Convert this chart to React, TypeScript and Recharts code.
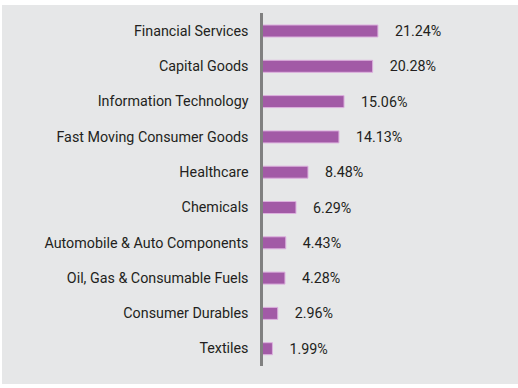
import { Bar, BarChart, LabelList, XAxis, YAxis } from "recharts";

const sectors = [
  "Financial Services",
  "Capital Goods",
  "Information Technology",
  "Fast Moving Consumer Goods",
  "Healthcare",
  "Chemicals",
  "Automobile & Auto Components",
  "Oil, Gas & Consumable Fuels",
  "Consumer Durables",
  "Textiles",
];
const weights = [21.24, 20.28, 15.06, 14.13, 8.48, 6.29, 4.43, 4.28, 2.96, 1.99];

const data = sectors.map((name, i) => ({ name, value: weights[i] }));

const font = "Roboto, 'Liberation Sans', sans-serif";

export default function App() {
  return (
    <div style={{ position: "absolute", left: 0, top: 0, width: 518, height: 388, background: "#fff" }}>
      <div style={{ position: "absolute", left: 2, top: 5, width: 516, height: 379, background: "#e6e7e8" }}>
        <BarChart
          layout="vertical"
          width={516}
          height={379}
          data={data}
          margin={{ top: 8, right: 40, bottom: 18, left: 0 }}
        >
          <XAxis type="number" domain={[0, 39.5]} hide />
          <YAxis
            type="category"
            dataKey="name"
            width={259.5}
            axisLine={{ stroke: "#808080", strokeWidth: 3 }}
            tickLine={false}
            tickSize={0}
            tickMargin={13}
            interval={0}
            tick={{ fill: "#231f20", fontSize: 14.3, fontFamily: font }}
          />
          <Bar
            dataKey="value"
            fill="#a25aa6"
            stroke="#dcb0de"
            strokeWidth={1}
            barSize={12}
            isAnimationActive={false}
          >
            <LabelList
              dataKey="value"
              position="right"
              offset={17}
              formatter={(v: number) => `${v.toFixed(2)}%`}
              style={{ fill: "#231f20", fontSize: 14.3, fontFamily: font }}
            />
          </Bar>
        </BarChart>
      </div>
    </div>
  );
}
